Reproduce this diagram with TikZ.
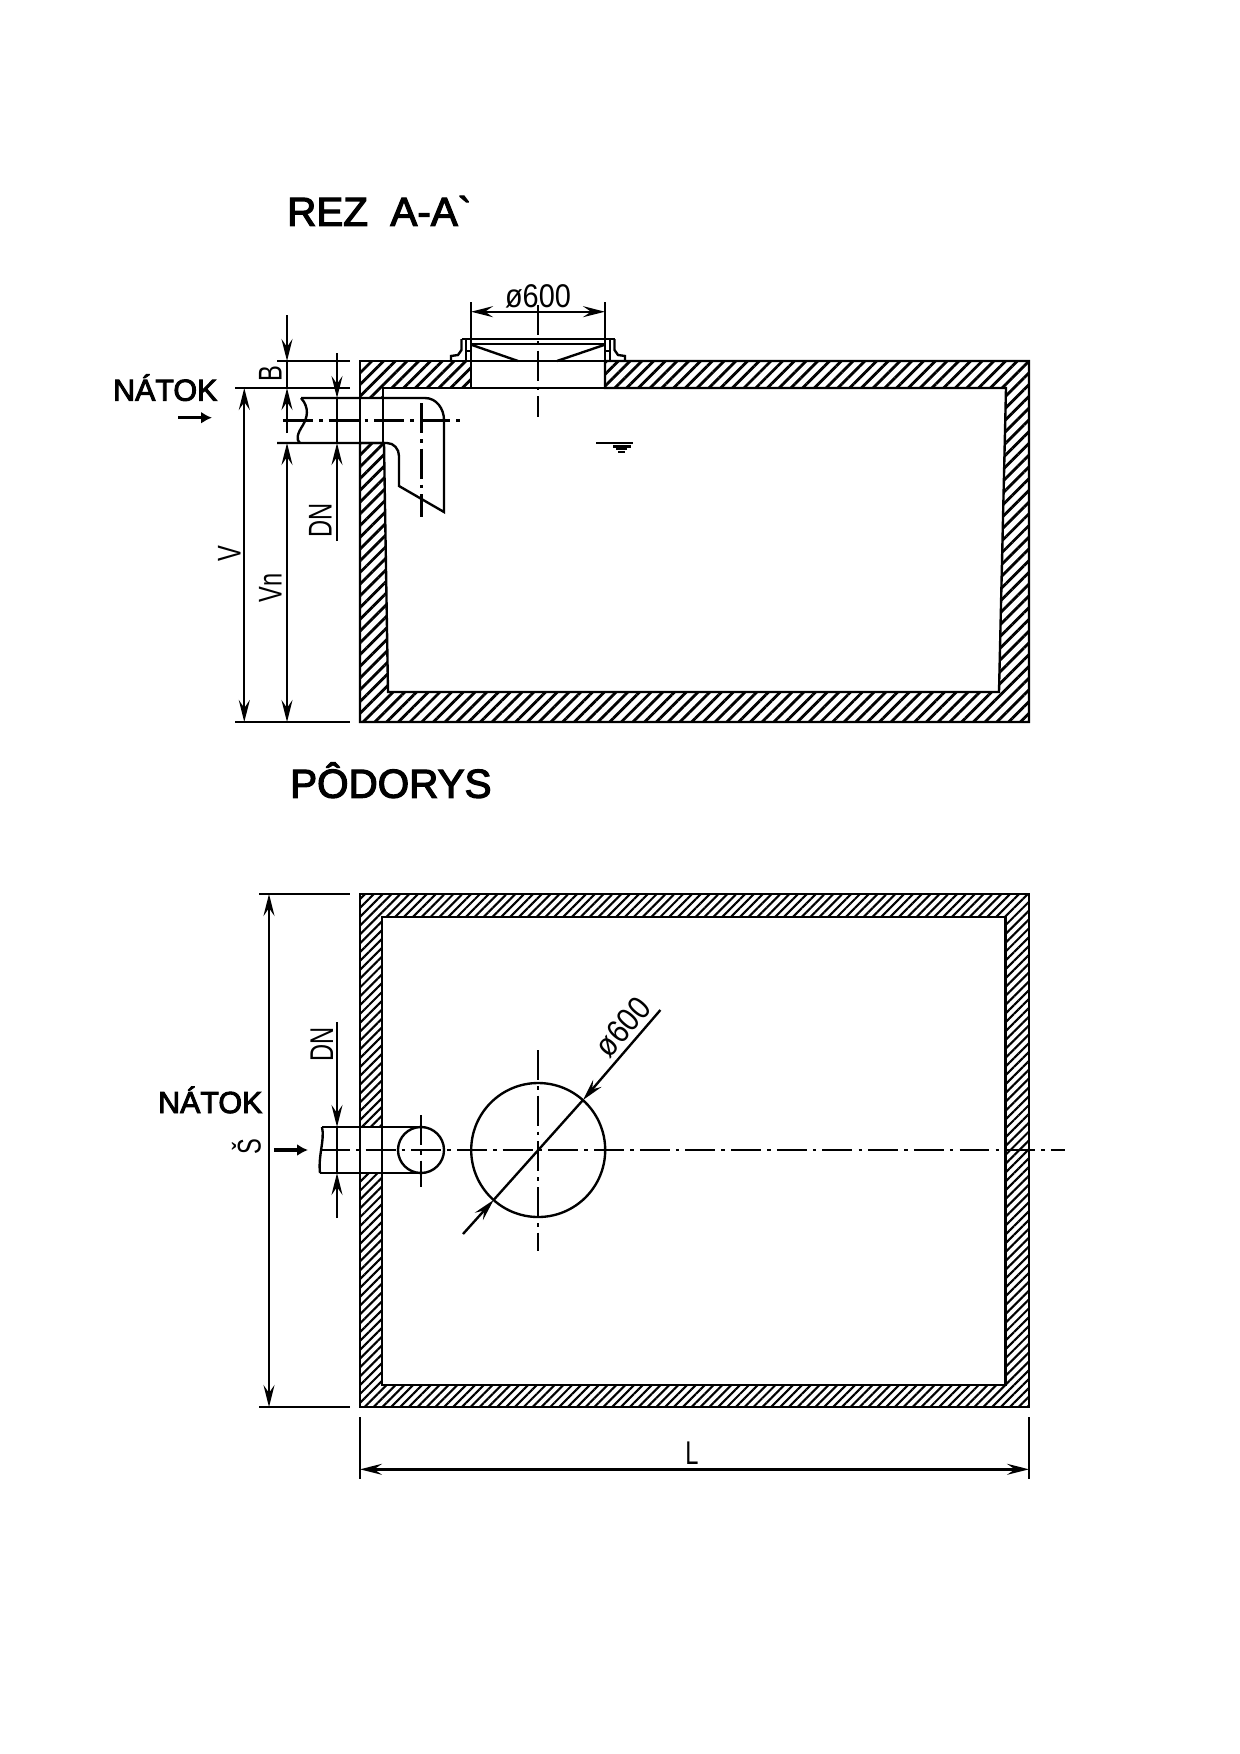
\documentclass[tikz,border=0pt]{standalone}
\usepackage{fontspec}
\newfontfamily\drawfont{Liberation Sans}
\newfontfamily\headfont[FakeBold=3]{Liberation Sans}
\usetikzlibrary{arrows.meta, patterns.meta}

\begin{document}
\begin{tikzpicture}[
    x=0.02cm, y=-0.02cm,
    line width=1.35pt,
    dimtip/.tip={Stealth[length=0.44cm, width=0.22cm, inset=0.16cm]},
    dimline/.style={dimtip-dimtip},
    flowarrow/.style={-{Latex[length=0.22cm, width=0.24cm]}, line width=2pt},
    centerline/.style={line width=1.2pt, dash pattern=on 17pt off 3.5pt on 2pt off 3.5pt},
    wallcut/.style={draw, pattern={Lines[angle=45, distance=0.166cm, line width=1.6pt]}},
    wallplan/.style={draw, pattern={Lines[angle=45, distance=0.125cm, line width=1.2pt]}},
    heading/.style={font=\headfont\fontsize{23}{28}\selectfont, anchor=base west, inner sep=0pt},
    inlet/.style={font=\headfont\fontsize{17.3}{20}\selectfont, anchor=base west, inner sep=0pt},
    dimtext/.style={font=\drawfont\fontsize{18.7}{22}\selectfont, anchor=base, inner sep=0pt, transform shape, xscale=0.72},
    dimdia/.style={font=\drawfont\fontsize{18.7}{22}\selectfont, anchor=base, inner sep=0pt, transform shape, xscale=0.88}
]
    \useasboundingbox (0,0) rectangle (1240,1754);

    % Headings
    \node[heading] (rez) at (286,225.7) {REZ\ \ A-A`};
    \node[heading] (podorys) at (289,797.7) {PÔDORYS};
    \node[inlet] (natokrez) at (112,400.7) {NÁTOK};
    \node[inlet] (natokplan) at (157,1113) {NÁTOK};

    % Section walls
    \path[wallcut] (360,361) -- (471,361) -- (471,388) -- (383,388) -- (383,398) -- (360,398) -- cycle;
    \path[wallcut] (605,361) -- (1029,361) -- (1029,722) -- (360,722) -- (360,443) -- (384,443)
        -- (388,692) -- (999,692) -- (1006,388) -- (605,388) -- cycle;
    \draw (471,361) -- (605,361);
    \draw (471,388) -- (605,388);

    % Manhole frame
    \draw (461.5,339) -- (614.5,339);
    \draw (471,344) -- (605,344);
    \draw (472,345) -- (518,361);
    \draw (604,345) -- (557,361);
    \draw (461.5,339) -- (461.5,350) -- (458,355) -- (451,356) -- (451,361);
    \draw (614.5,339) -- (614.5,350) -- (618,355) -- (625,356) -- (625,361);
    \draw (466,339) -- (466,351) -- (471,351);
    \draw (610,339) -- (610,351) -- (605,351);
    \draw (466,351) -- (466,361);
    \draw (610,351) -- (610,361);

    % Inlet pipe, section
    \draw (301,398) -- (425,398) to[out=0, in=90] (444,420) -- (444,512) -- (399,486)
        -- (399,456) to[out=90, in=0] (387,443) -- (277,443);
    \draw (301,398) .. controls (310,408) and (307,418) .. (303,425) .. controls (297,434) and (296,440) .. (300,443);
    \draw (360,398) -- (360,443);
    \draw (383,398) -- (383,443);
    \draw[centerline] (283,420.5) -- (465,420.5);
    \draw[centerline] (421.5,403) -- (421.5,517);
    \draw[centerline] (537.7,305) -- (537.7,417);

    % Water level
    \draw (596,442.7) -- (633,442.7);
    \draw (613,446.5) -- (631,446.5);
    \draw (616,449) -- (627,449);
    \draw (618,451.7) -- (625,451.7);

    % Section dimensions
    \draw (471,302) -- (471,361);
    \draw (605,302) -- (605,361);
    \draw[dimline] (471,311.7) -- (605,311.7);
    \draw (277,361) -- (350,361);
    \draw (235,388) -- (350,388);
    \draw (235,722) -- (350,722);
    \draw[dimline] (244.3,388) -- (244.3,722);
    \draw[dimline] (287,443) -- (287,722);
    \draw[-dimtip] (287,315) -- (287,361);
    \draw (287,361) -- (287,388);
    \draw[-dimtip] (287,433) -- (287,388);
    \draw[-dimtip] (337,353) -- (337,398);
    \draw (337,398) -- (337,443);
    \draw[-dimtip] (337,541) -- (337,443);
    \draw[flowarrow] (178,417.7) -- (212,417.7);
    \node[dimdia] (diarez) at (538,307) {ø600};
    \node[rotate=90, dimtext] (brez) at (281.7,374) {B};
    \node[rotate=90, dimtext] (dnrez) at (331.7,520) {DN};
    \node[rotate=90, dimtext] (vrez) at (240.7,554) {V};
    \node[rotate=90, dimtext] (vnrez) at (281.7,588) {Vn};

    % Plan walls
    \path[wallplan, even odd rule] (360,894) rectangle (1029,1407) (382,917) rectangle (1005.5,1385);
    \fill[white] (360,1127) rectangle (382,1173);

    % Inlet pipe and manhole, plan
    \draw (322,1127) -- (421,1127);
    \draw (320,1173) -- (421,1173);
    \draw (322,1127) .. controls (325,1140) and (318,1155) .. (320,1173);
    \draw (360,1127) -- (360,1173);
    \draw (382,1127) -- (382,1173);
    \draw (421,1150) circle (23);
    \draw (538.2,1150) circle (67);
    \draw[centerline] (320,1150) -- (1065,1150);
    \draw[centerline] (421,1115) -- (421,1187);
    \draw[centerline] (538.2,1050) -- (538.2,1251);

    % Plan dimensions
    \draw (259,894) -- (350,894);
    \draw (259,1407) -- (350,1407);
    \draw[dimline] (269,894) -- (269,1407);
    \draw (360,1417) -- (360,1479);
    \draw (1029,1417) -- (1029,1479);
    \draw[dimline] (360,1469.3) -- (1029,1469.3);
    \draw[-dimtip] (337,1022) -- (337,1127);
    \draw (337,1127) -- (337,1173);
    \draw[-dimtip] (337,1218) -- (337,1173);
    \draw[-dimtip] (660.4,1010) -- (583,1100);
    \draw (583,1100) -- (493.6,1200);
    \draw[-dimtip] (463,1234) -- (493.6,1200);
    \draw[flowarrow] (274,1150) -- (308,1150);
    \node[rotate=49, dimdia, anchor=center] (diaplan) at (623,1027) {ø600};
    \node[rotate=90, dimtext] (dnplan) at (333,1044) {DN};
    \node[rotate=90, dimtext] (splan) at (260.7,1147) {Š};
    \node[dimtext] (lenplan) at (692,1464) {L};
\end{tikzpicture}
\end{document}
